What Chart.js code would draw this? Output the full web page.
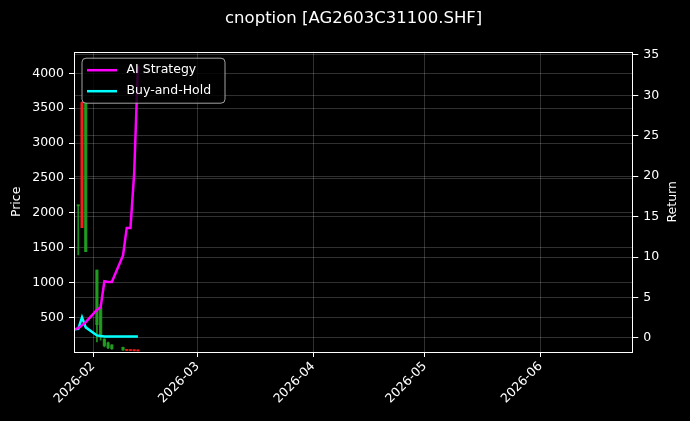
<!DOCTYPE html>
<html>
<head>
<meta charset="utf-8">
<script src="https://cdn.jsdelivr.net/npm/chart.js@4.4.1/dist/chart.umd.min.js"></script>
<style>
  html, body { margin: 0; padding: 0; background: #000; }
  #wrap { width: 690px; height: 421px; }
</style>
</head>
<body>
<div id="wrap"><canvas id="c" width="690" height="421"></canvas></div>
<script>
// ---- data ----
const chartTitle = 'cnoption [AG2603C31100.SHF]';
const lineDates = ['2026-01-27','2026-01-28','2026-01-29','2026-01-30','2026-02-02','2026-02-03','2026-02-04','2026-02-05','2026-02-06','2026-02-09','2026-02-10','2026-02-11','2026-02-12','2026-02-13'];
const aiReturn = [1.05, 1.2, 1.55, 1.95, 3.45, 3.8, 7.0, 6.9, 6.9, 10.2, 13.6, 13.6, 20.4, 33.7];
const bhReturn = [1.05, 1.12, 2.55, 1.3, 0.3, 0.22, 0.18, 0.17, 0.17, 0.16, 0.16, 0.16, 0.16, 0.16];

const candleDates = ['2026-01-28','2026-01-29','2026-01-30','2026-02-02','2026-02-03','2026-02-04','2026-02-05','2026-02-06','2026-02-09','2026-02-10','2026-02-11','2026-02-12','2026-02-13'];
const opens  = [2100, 3580, 1445, 400, 250, 100, 70, 55, 40, 40, 38, 35, 32];
const highs  = [2115, 3590, 3580, 1183, 690, 200, 152, 113, 80, 45, 42, 38, 35];
const lows   = [1398, 1790, 1445, 152, 180, 80, 56, 47, 33, 30, 28, 26, 24];
const closes = [2115, 1790, 3570, 1183, 650, 190, 140, 110, 75, 32, 30, 28, 26];

const priceTicks = [500, 1000, 1500, 2000, 2500, 3000, 3500, 4000];
const returnTicks = [0, 5, 10, 15, 20, 25, 30, 35];
const monthTicks = ['2026-02', '2026-03', '2026-04', '2026-05', '2026-06'];
const seriesNames = ['AI Strategy', 'Buy-and-Hold'];

// ---- helpers ----
const BASE = Date.parse('2026-02-01');
const toDay = s => (Date.parse(s) - BASE) / 86400000;

const RED = 'rgba(255,30,30,0.85)';
const GREEN = 'rgba(34,160,34,0.85)';
const MAGENTA = '#ff00ff';
const CYAN = '#00ffff';
const FONT = "'DejaVu Sans', sans-serif";

const candleColor = closes.map((c, i) => c >= opens[i] ? GREEN : RED);
const wickData = candleDates.map((d, i) => ({ x: toDay(d), y: [lows[i], highs[i]] }));
const bodyData = candleDates.map((d, i) => ({ x: toDay(d), y: [opens[i], closes[i]] }));
const aiData = lineDates.map((d, i) => ({ x: toDay(d), y: aiReturn[i] }));
const bhData = lineDates.map((d, i) => ({ x: toDay(d), y: bhReturn[i] }));

const gridOpts = {
  color: 'rgba(255,255,255,0.24)',
  lineWidth: 0.8,
  borderDash: [3, 2.2],
  offset: false,
  drawTicks: true,
  tickLength: 5,
  tickColor: '#ffffff',
  tickWidth: 1,
  tickBorderDash: []
};

const framePlugin = {
  id: 'frame',
  afterDatasetsDraw(chart) {
    const { ctx, chartArea: a } = chart;
    ctx.save();
    ctx.strokeStyle = '#ffffff';
    ctx.lineWidth = 1;
    ctx.strokeRect(Math.round(a.left) + 0.5, Math.round(a.top) + 0.5,
                   Math.round(a.right - a.left) - 1, Math.round(a.bottom - a.top));
    ctx.restore();
  },
  afterDraw(chart) {
    const { ctx, chartArea: a } = chart;
    ctx.save();
    // title
    ctx.fillStyle = '#ffffff';
    ctx.font = `16.5px ${FONT}`;
    ctx.textAlign = 'center';
    ctx.textBaseline = 'middle';
    ctx.fillText(chartTitle, (a.left + a.right) / 2, 19);
    // axis titles
    ctx.font = `12.5px ${FONT}`;
    ctx.save();
    ctx.translate(17, (a.top + a.bottom) / 2);
    ctx.rotate(-Math.PI / 2);
    ctx.fillText('Price', 0, 0);
    ctx.restore();
    ctx.save();
    ctx.translate(673, (a.top + a.bottom) / 2);
    ctx.rotate(-Math.PI / 2);
    ctx.fillText('Return', 0, 0);
    ctx.restore();
    // legend
    const lx = a.left + 8, ly = a.top + 6.5, lw = 143, lh = 45, r = 4;
    ctx.beginPath();
    ctx.moveTo(lx + r, ly);
    ctx.lineTo(lx + lw - r, ly);
    ctx.arcTo(lx + lw, ly, lx + lw, ly + r, r);
    ctx.lineTo(lx + lw, ly + lh - r);
    ctx.arcTo(lx + lw, ly + lh, lx + lw - r, ly + lh, r);
    ctx.lineTo(lx + r, ly + lh);
    ctx.arcTo(lx, ly + lh, lx, ly + lh - r, r);
    ctx.lineTo(lx, ly + r);
    ctx.arcTo(lx, ly, lx + r, ly, r);
    ctx.closePath();
    ctx.fillStyle = 'rgba(0,0,0,0.8)';
    ctx.fill();
    ctx.strokeStyle = 'rgba(204,204,204,0.8)';
    ctx.lineWidth = 1;
    ctx.stroke();
    const cols = [MAGENTA, CYAN];
    seriesNames.forEach((name, i) => {
      const y = ly + 12 + i * 21;
      ctx.strokeStyle = cols[i];
      ctx.lineWidth = 2.5;
      ctx.beginPath();
      ctx.moveTo(lx + 5, y);
      ctx.lineTo(lx + 35, y);
      ctx.stroke();
      ctx.fillStyle = '#ffffff';
      ctx.textAlign = 'left';
      ctx.textBaseline = 'middle';
      ctx.fillText(name, lx + 44.5, y);
    });
    ctx.restore();
  }
};

new Chart(document.getElementById('c'), {
  type: 'bar',
  data: {
    datasets: [
      { type: 'line', label: seriesNames[0], data: aiData, yAxisID: 'y2', xAxisID: 'x',
        borderColor: MAGENTA, borderWidth: 2.5, pointRadius: 0, tension: 0, order: 0 },
      { type: 'line', label: seriesNames[1], data: bhData, yAxisID: 'y2', xAxisID: 'x',
        borderColor: CYAN, borderWidth: 2.5, pointRadius: 0, tension: 0, order: 1 },
      { type: 'bar', label: 'body', data: bodyData, yAxisID: 'y', xAxisID: 'x',
        backgroundColor: candleColor, borderWidth: 0, barThickness: 2.6, grouped: false,
        minBarLength: 1, order: 2 },
      { type: 'bar', label: 'wick', data: wickData, yAxisID: 'y', xAxisID: 'x',
        backgroundColor: candleColor, borderWidth: 0, barThickness: 1.2, grouped: false,
        order: 3 }
    ]
  },
  options: {
    responsive: false,
    animation: false,
    devicePixelRatio: 1,
    layout: { padding: { top: 51.7, left: 0, right: 0, bottom: 0 } },
    plugins: { legend: { display: false }, title: { display: false }, tooltip: { enabled: false } },
    scales: {
      x: {
        type: 'linear',
        min: -5.15,
        max: 144.9,
        offset: false,
        grid: gridOpts,
        border: { display: false },
        afterBuildTicks: s => { s.ticks = monthTicks.map(m => ({ value: toDay(m + '-01') })); },
        afterFit: s => { s.height = 69; },
        ticks: {
          color: '#ffffff',
          font: { family: FONT, size: 12.5 },
          minRotation: 45, maxRotation: 45, autoSkip: false, padding: 2,
          callback: (v, i) => monthTicks[i]
        }
      },
      y: {
        type: 'linear',
        position: 'left',
        min: 9,
        max: 4309,
        grid: gridOpts,
        border: { display: false },
        afterBuildTicks: s => { s.ticks = priceTicks.map(v => ({ value: v })); },
        afterFit: s => { s.width = 74; },
        ticks: { color: '#ffffff', font: { family: FONT, size: 12.5 }, padding: 5,
                 callback: v => String(v) }
      },
      y2: {
        type: 'linear',
        position: 'right',
        min: -1.75,
        max: 35.4,
        grid: gridOpts,
        border: { display: false },
        afterBuildTicks: s => { s.ticks = returnTicks.map(v => ({ value: v })); },
        afterFit: s => { s.width = 56.7; },
        ticks: { color: '#ffffff', font: { family: FONT, size: 12.5 }, padding: 5,
                 callback: v => String(v) }
      }
    }
  },
  plugins: [framePlugin]
});
</script>
</body>
</html>
